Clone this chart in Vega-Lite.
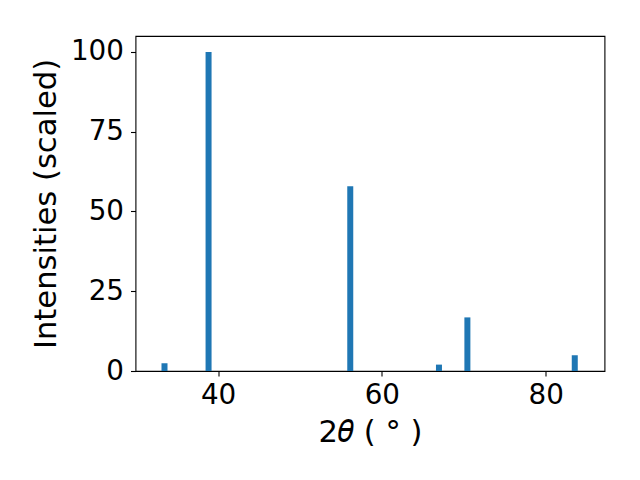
{
  "$schema": "https://vega.github.io/schema/vega-lite/v6.json",
  "width": 469,
  "height": 335,
  "autosize": {"type": "none"},
  "padding": {"left": 135.5, "top": 36, "right": 35.5, "bottom": 109},
  "background": "white",
  "config": {
    "view": {"stroke": "black", "strokeWidth": 1.1},
    "font": "DejaVu Sans",
    "axis": {
      "grid": false,
      "domain": false,
      "tickColor": "black",
      "tickSize": 5,
      "tickWidth": 1.1,
      "labelFont": "DejaVu Sans",
      "labelFontSize": 27.8,
      "labelColor": "black",
      "titleFont": "DejaVu Sans",
      "titleFontSize": 30.6,
      "titleFontWeight": "normal",
      "titleColor": "black"
    }
  },
  "data": {
    "values": [
      {"two_theta": 33.46, "intensity": 2.4},
      {"two_theta": 38.84, "intensity": 100},
      {"two_theta": 56.14, "intensity": 57.9},
      {"two_theta": 66.97, "intensity": 2.0},
      {"two_theta": 70.44, "intensity": 16.8},
      {"two_theta": 83.55, "intensity": 4.9}
    ]
  },
  "mark": {"type": "bar", "color": "#1f77b4", "width": 6, "clip": true},
  "encoding": {
    "x": {
      "field": "two_theta",
      "type": "quantitative",
      "scale": {"domain": [30.53, 86.57], "nice": false, "zero": false},
      "axis": {"values": [40, 60, 80], "title": "2𝜃 ( ° )", "labelPadding": 5, "titlePadding": 9, "labelFlush": false}
    },
    "y": {
      "field": "intensity",
      "type": "quantitative",
      "scale": {"domain": [0, 105], "nice": false},
      "axis": {"values": [0, 25, 50, 75, 100], "title": "Intensities (scaled)", "labelPadding": 7, "titlePadding": 9}
    }
  }
}
